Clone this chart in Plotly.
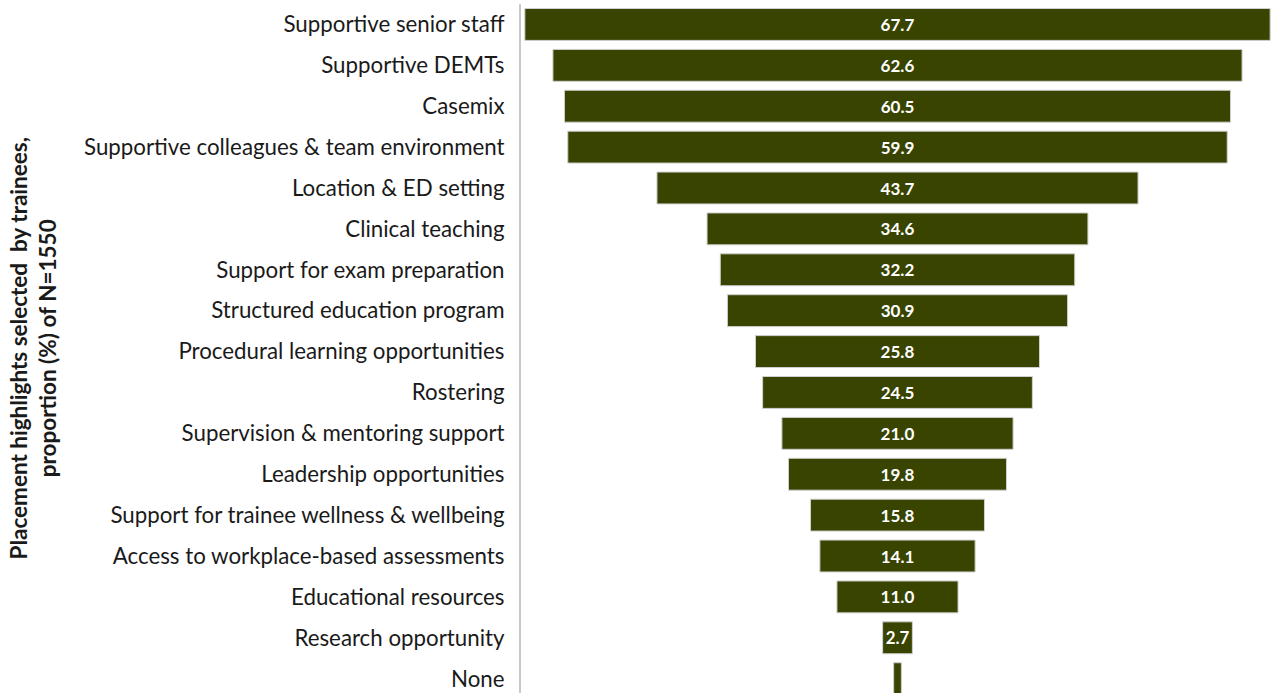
import plotly.graph_objects as go

categories = ["Supportive senior staff", "Supportive DEMTs", "Casemix",
              "Supportive colleagues & team environment", "Location & ED setting",
              "Clinical teaching", "Support for exam preparation",
              "Structured education program", "Procedural learning opportunities",
              "Rostering", "Supervision & mentoring support", "Leadership opportunities",
              "Support for trainee wellness & wellbeing",
              "Access to workplace-based assessments", "Educational resources",
              "Research opportunity", "None"]
values = [67.7, 62.6, 60.5, 59.9, 43.7, 34.6, 32.2, 30.9, 25.8, 24.5, 21.0, 19.8,
          15.8, 14.1, 11.0, 2.7, 0.7]
labels = ["67.7", "62.6", "60.5", "59.9", "43.7", "34.6", "32.2", "30.9", "25.8",
          "24.5", "21.0", "19.8", "15.8", "14.1", "11.0", "2.7", ""]

W, H = 1278, 693
L, R, T, B = 521, 4, 4, 0

fig = go.Figure(go.Funnel(
    y=categories, x=values, text=labels, texttemplate="%{text}",
    textposition="inside", insidetextanchor="middle",
    textfont=dict(family="Lato", size=17, color="white", weight="bold"),
    marker=dict(color="#384400", line=dict(color="#d0d0d0", width=1)),
    connector=dict(visible=False),
    hoverinfo="skip",
))

fig.update_layout(
    width=W, height=H,
    margin=dict(l=L, r=R, t=T, b=B, pad=0),
    paper_bgcolor="white", plot_bgcolor="white",
    showlegend=False,
    funnelgap=0.22,
    xaxis=dict(range=[-34.2, 34.2], visible=False, fixedrange=True),
    yaxis=dict(range=[16.35, -0.5], autorange=False, showline=True,
               linecolor="#c8c8c8", linewidth=2, ticks="", ticklabelstandoff=10,
               tickfont=dict(family="Lato", size=22.3, color="#1a1a1a"),
               showgrid=False),
    annotations=[dict(
        text="<b>Placement highlights selected  by trainees,<br>proportion (%) of N=1550</b>",
        xref="paper", yref="paper",
        x=(32 - L) / (W - L - R), y=0.5, xanchor="center", yanchor="middle",
        textangle=-90, showarrow=False,
        font=dict(family="Lato", size=22.5, color="#1a1a1a"),
    )],
)

fig.write_html("out.html")
